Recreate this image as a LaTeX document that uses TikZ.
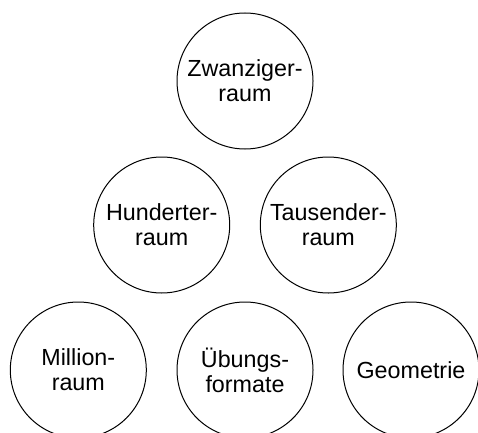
\documentclass[tikz,border=0pt]{standalone}
\usepackage{fontspec}
\setmainfont{Liberation Sans}
\begin{document}
\begin{tikzpicture}[x=1pt,y=1pt,
  topic/.style={draw=black, line width=1pt, circle, minimum size=136pt, inner sep=0pt,
    align=center, font=\fontsize{23.3}{25}\selectfont}]
\useasboundingbox (0,0) rectangle (478,432);
\clip (0,0) rectangle (478,432);
\node[topic] (z) at (245,351) {Zwanziger-\\raum};
\node[topic] (h) at (161.7,207) {Hunderter-\\raum};
\node[topic] (t) at (328.3,207) {Tausender-\\raum};
\node[topic] (m) at (78.3,62) {Million-\\raum};
\node[topic] (u) at (245,62) {Übungs-\\formate};
\node[topic] (g) at (411,62) {Geometrie};
\end{tikzpicture}
\end{document}
